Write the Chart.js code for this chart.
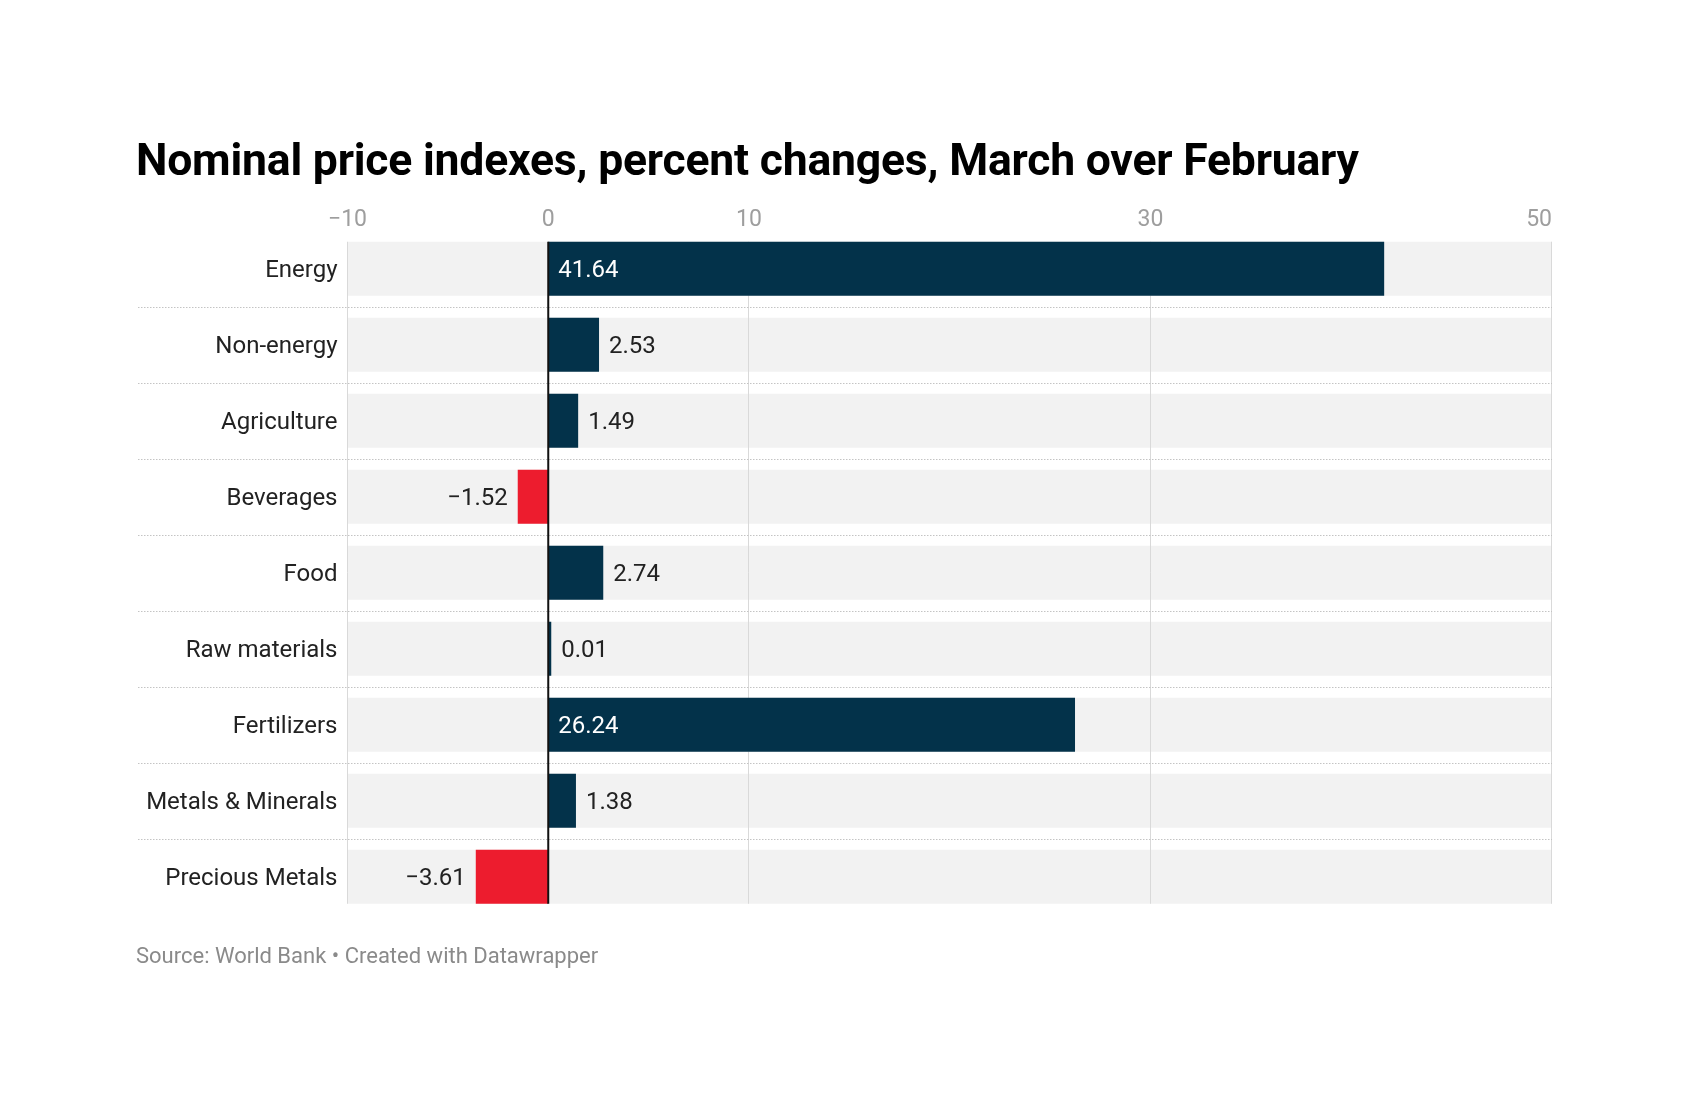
<!DOCTYPE html>
<html>
<head>
<meta charset="utf-8">
<script src="https://cdn.jsdelivr.net/npm/chart.js@4.4.1/dist/chart.umd.min.js"></script>
<style>
  html, body { margin: 0; padding: 0; background: #ffffff; overflow: hidden; }
  body { width: 1692px; height: 1106px; position: relative; font-family: Roboto, "Noto Sans", sans-serif; }
  #title { position: absolute; left: 136px; top: 137.5px; font-size: 44.5px; line-height: 1; font-weight: 700; color: #000; white-space: nowrap; letter-spacing: -0.2px; }
  #source { position: absolute; left: 136px; top: 944.5px; font-size: 22px; line-height: 1; color: #8a8a8a; white-space: nowrap; }
  #wrap { position: absolute; left: 0; top: 0; width: 1692px; height: 1106px; }
</style>
</head>
<body>
<div id="wrap"><canvas id="c"></canvas></div>
<div id="title">Nominal price indexes, percent changes, March over February</div>
<div id="source">Source: World Bank • Created with Datawrapper</div>
<script>
// ---- data ----
const categories = ['Energy', 'Non-energy', 'Agriculture', 'Beverages', 'Food', 'Raw materials', 'Fertilizers', 'Metals & Minerals', 'Precious Metals'];
const changes = [41.64, 2.53, 1.49, -1.52, 2.74, 0.01, 26.24, 1.38, -3.61];
const xTicks = [-10, 0, 10, 30, 50];
const xGridLines = [-10, 10, 30, 50];
const xMin = -10;
const xMax = 50;

// ---- styles ----
const NAVY = '#03324a';
const RED = '#ed1c2e';
const BAND = '#f2f2f2';
const GRID = '#d9d9d9';
const SEP = '#c4c4c4';
const FONT = 'Roboto, "Noto Sans", sans-serif';

const minusFmt = (s) => s.replace('-', '\u2212');
const valueFmt = (v) => minusFmt(v.toFixed(2));

const decor = {
  id: 'decor',
  beforeDatasetDraw(chart, args) {
    if (args.index !== 0) return;
    const ctx = chart.ctx;
    const x = chart.scales.x;
    const band = chart.getDatasetMeta(1).data;
    const f = band[0].getProps(['y', 'height'], true);
    const l = band[band.length - 1].getProps(['y', 'height'], true);
    const top = f.y - f.height / 2, bottom = l.y + l.height / 2;
    ctx.save();
    ctx.strokeStyle = GRID;
    ctx.lineWidth = 1;
    xGridLines.forEach(v => {
      const px = Math.round(x.getPixelForValue(v)) - 0.5;
      ctx.beginPath(); ctx.moveTo(px, top); ctx.lineTo(px, bottom); ctx.stroke();
    });
    ctx.restore();
  },
  afterDatasetsDraw(chart) {
    const ctx = chart.ctx;
    const x = chart.scales.x, y = chart.scales.y;
    const band = chart.getDatasetMeta(1).data;
    const bars = chart.getDatasetMeta(0).data;
    const f = band[0].getProps(['y', 'height'], true);
    const l = band[band.length - 1].getProps(['y', 'height'], true);
    const top = f.y - f.height / 2, bottom = l.y + l.height / 2;
    ctx.save();
    // dotted separators between rows
    ctx.strokeStyle = SEP;
    ctx.lineWidth = 1;
    ctx.setLineDash([1.5, 1.5]);
    const left = 138;
    for (let i = 0; i < categories.length - 1; i++) {
      const py = Math.round((y.getPixelForValue(i) + y.getPixelForValue(i + 1)) / 2) + 0.5;
      ctx.beginPath(); ctx.moveTo(left, py); ctx.lineTo(x.right, py); ctx.stroke();
    }
    ctx.setLineDash([]);
    // zero line
    const zx = x.getPixelForValue(0);
    ctx.strokeStyle = '#111';
    ctx.lineWidth = 2;
    ctx.beginPath(); ctx.moveTo(zx, top); ctx.lineTo(zx, bottom); ctx.stroke();
    // value labels
    ctx.font = '24px ' + FONT;
    ctx.textBaseline = 'middle';
    const pad = 10;
    changes.forEach((v, i) => {
      const txt = valueFmt(v);
      const w = ctx.measureText(txt).width;
      const el = bars[i].getProps(['x', 'y'], true);
      const py = el.y + 2;
      const endX = el.x;
      const barPx = Math.abs(endX - zx);
      if (v >= 0) {
        if (barPx > w + 2 * pad) {
          ctx.fillStyle = '#ffffff'; ctx.textAlign = 'left';
          ctx.fillText(txt, zx + pad, py);
        } else {
          ctx.fillStyle = '#222222'; ctx.textAlign = 'left';
          ctx.fillText(txt, endX + pad, py);
        }
      } else {
        if (barPx > w + 2 * pad) {
          ctx.fillStyle = '#ffffff'; ctx.textAlign = 'right';
          ctx.fillText(txt, zx - pad, py);
        } else {
          ctx.fillStyle = '#222222'; ctx.textAlign = 'right';
          ctx.fillText(txt, endX - pad, py);
        }
      }
    });
    ctx.restore();
  }
};

new Chart(document.getElementById('c'), {
  type: 'bar',
  data: {
    labels: categories,
    datasets: [
      {
        data: changes,
        backgroundColor: changes.map(v => v < 0 ? RED : NAVY),
        borderWidth: 0,
        minBarLength: 3,
        order: 0
      },
      {
        data: categories.map(() => [xMin, xMax]),
        backgroundColor: BAND,
        borderWidth: 0,
        order: 1
      }
    ]
  },
  options: {
    indexAxis: 'y',
    responsive: true,
    maintainAspectRatio: false,
    animation: false,
    events: [],
    datasets: { bar: { grouped: false, barPercentage: 0.71, categoryPercentage: 1 } },
    layout: { padding: { left: 0, right: 140, top: 190.7, bottom: 191.2 } },
    plugins: { legend: { display: false }, tooltip: { enabled: false }, title: { display: false } },
    scales: {
      x: {
        position: 'top',
        min: xMin,
        max: xMax,
        afterBuildTicks: (s) => { s.ticks = xTicks.map(v => ({ value: v })); },
        afterFit: (s) => { s.height = 40; },
        grid: { display: false, drawTicks: false },
        border: { display: false },
        ticks: {
          padding: -3,
          color: '#9e9e9e',
          font: { family: FONT, size: 23 },
          maxRotation: 0,
          autoSkip: false,
          callback: (v) => {
            const s = minusFmt(String(v));
            // last label sits flush with the right edge of the plot
            return v === xMax ? s + '\u2007'.repeat(s.length) : s;
          }
        }
      },
      y: {
        afterFit: (s) => { s.width = 347.5; },
        grid: { display: false, drawTicks: false },
        border: { display: false },
        ticks: {
          padding: 10,
          labelOffset: 2,
          color: '#222222',
          font: { family: FONT, size: 24 },
          autoSkip: false
        }
      }
    }
  },
  plugins: [decor]
});
</script>
</body>
</html>
